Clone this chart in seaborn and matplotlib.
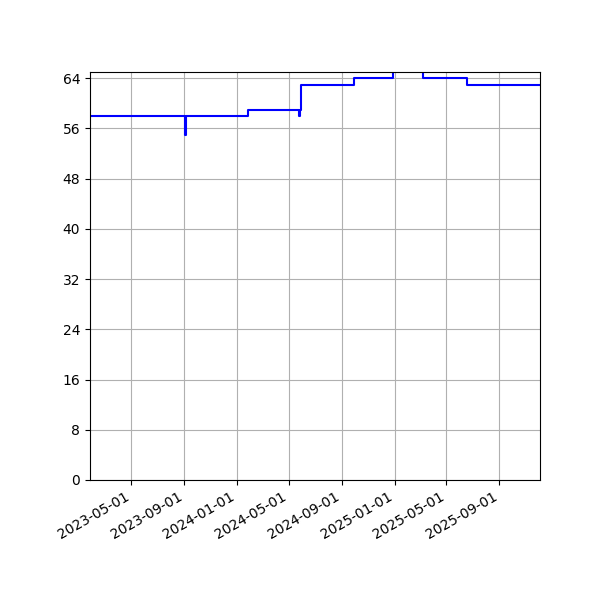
import matplotlib
matplotlib.use("Agg")
import matplotlib.pyplot as plt
import matplotlib.dates as mdates
from matplotlib.ticker import MultipleLocator
import seaborn as sns
import pandas as pd

# change points of the step series (value holds until next date)
dates = ["2023-01-25", "2023-09-03", "2023-09-04", "2024-01-27", "2024-05-25",
         "2024-05-26", "2024-05-29", "2024-09-29", "2024-12-29", "2025-03-08",
         "2025-06-18", "2025-12-04"]
values = [58, 55, 58, 59, 58, 59, 63, 64, 66, 64, 63, 63]

df = pd.DataFrame({"date": pd.to_datetime(dates), "value": values})

fig, ax = plt.subplots(figsize=(6, 6), dpi=100)
sns.lineplot(data=df, x="date", y="value", ax=ax, color="blue",
             linewidth=1.5, drawstyle="steps-post")
ax.set_xlim(df["date"].iloc[0], df["date"].iloc[-1])
ax.set_ylim(0, 65)
ax.yaxis.set_major_locator(MultipleLocator(8))
ax.xaxis.set_major_locator(mdates.MonthLocator(bymonth=[1, 5, 9]))
ax.xaxis.set_major_formatter(mdates.DateFormatter("%Y-%m-%d"))
ax.grid(True)
ax.set_xlabel("")
ax.set_ylabel("")
fig.autofmt_xdate()
fig.subplots_adjust(left=0.15, right=0.9, bottom=0.2, top=0.88)
fig.savefig("out.png", dpi=100)
